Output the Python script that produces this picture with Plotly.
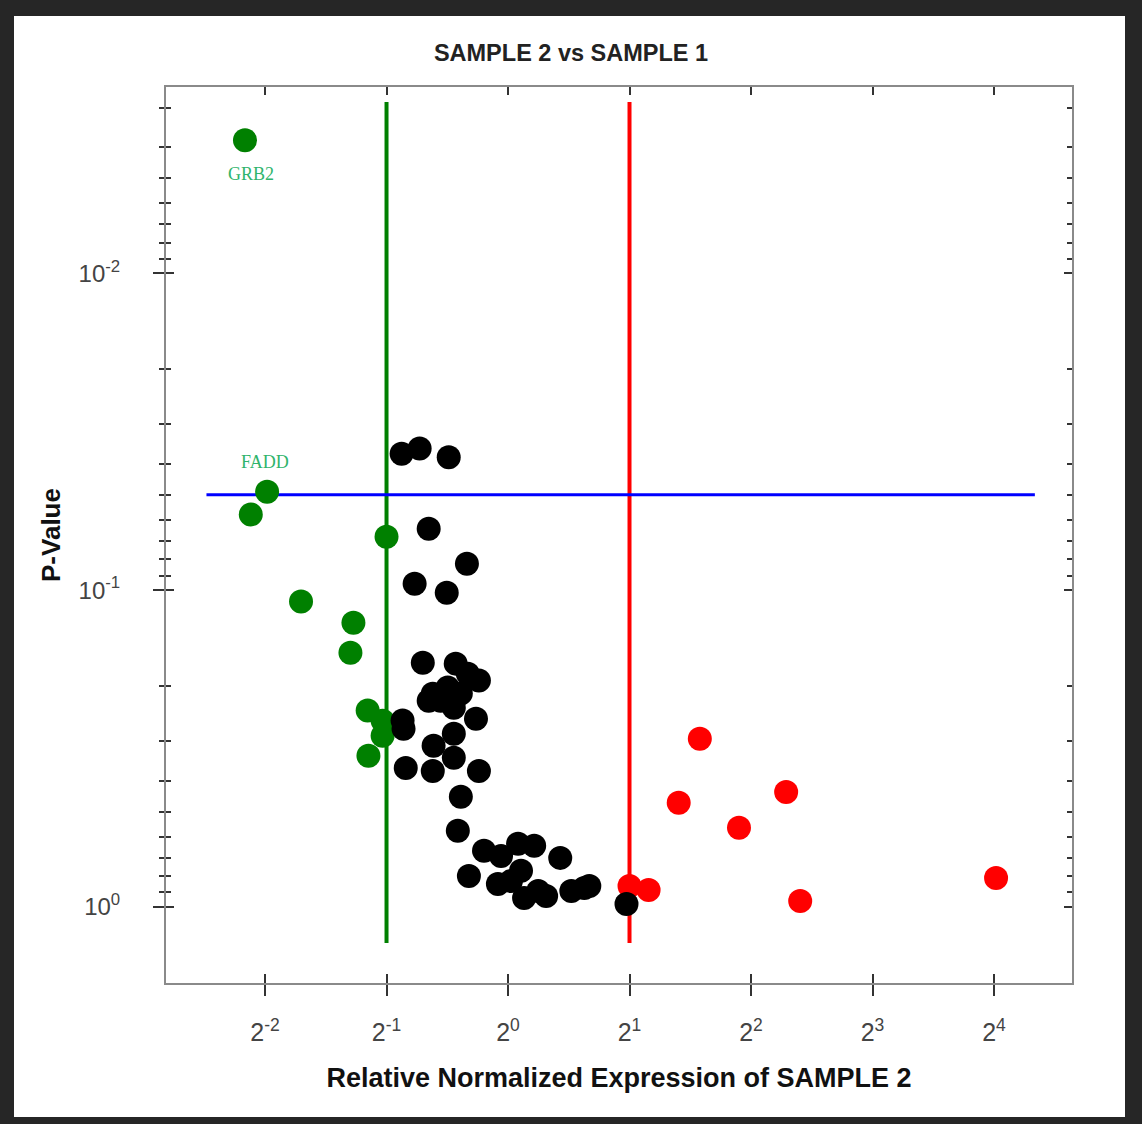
import numpy as np
import plotly.graph_objects as go

# ---------------- data ----------------
green_x = [0.223, 0.253, 0.2305, 0.50, 0.307, 0.414, 0.407, 0.449, 0.489, 0.489, 0.451]
green_p = [0.0038, 0.0489, 0.0577, 0.0678, 0.1087, 0.1267, 0.1576, 0.240, 0.2584, 0.288, 0.333]

red_x = [2.987, 2.648, 4.888, 3.735, 16.19, 5.296, 2.00, 2.23]
red_p = [0.2946, 0.469, 0.4334, 0.5627, 0.810, 0.957, 0.858, 0.884]

black_x = [0.545, 0.604, 0.713, 0.636, 0.791, 0.587, 0.705,
           0.615, 0.742, 0.795, 0.847, 0.651, 0.709, 0.764, 0.636, 0.681,
           0.734, 0.833, 0.548, 0.551, 0.734, 0.654, 0.734, 0.558, 0.651,
           0.847, 0.764, 0.751, 0.872, 0.961, 1.059, 1.161, 1.347, 0.800,
           1.077, 0.944, 1.017, 1.096, 1.188, 1.243, 1.435, 1.545, 1.590,
           1.966]
black_p = [0.0371, 0.0357, 0.0381, 0.064, 0.0825, 0.0954, 0.1019,
           0.1694, 0.1706, 0.1836, 0.193, 0.2124, 0.203, 0.212, 0.2235, 0.2235,
           0.235, 0.2547, 0.258, 0.274, 0.284, 0.310, 0.338, 0.364, 0.372,
           0.372, 0.449, 0.575, 0.665, 0.690, 0.632, 0.641, 0.700, 0.798,
           0.769, 0.846, 0.828, 0.937, 0.890, 0.923, 0.890, 0.871, 0.858,
           0.978]

label_genes = ["GRB2", "FADD"]
label_x = [0.223, 0.253]
label_p = [0.0038, 0.0489]

fc_down = 0.5
fc_up = 2.0
p_threshold = 0.05
vline_p_extent = [0.00288, 1.30]
hline_x_extent = [0.179, 20.2]

x_tickvals = [0.25, 0.5, 1, 2, 4, 8, 16]
x_ticktext = ["2<sup>-2</sup>", "2<sup>-1</sup>", "2<sup>0</sup>", "2<sup>1</sup>",
              "2<sup>2</sup>", "2<sup>3</sup>", "2<sup>4</sup>"]
y_tickvals = [0.01, 0.1, 1]
y_ticktext = ["10<sup>-2</sup>", "10<sup>-1</sup>", "10<sup>0</sup>"]
y_minor = [m * 10.0 ** e for e in (-3, -2, -1) for m in range(2, 10)]

title_text = "SAMPLE 2 vs SAMPLE 1"
x_title = "Relative Normalized Expression of SAMPLE 2"
y_title = "P-Value"

# ---------------- figure ----------------
W, H = 1142, 1124
ML, MR, MT, MB = 166, 70, 87, 141
x_range = [(-2 - 0.815) * np.log10(2), (4 + 0.642) * np.log10(2)]
y_range = [0.24, -2.588]

FONT = "Liberation Sans, Arial, sans-serif"
fig = go.Figure()

# threshold lines
fig.add_trace(go.Scatter(x=[fc_down, fc_down], y=vline_p_extent, mode="lines",
                         line=dict(color="#008000", width=4), showlegend=False, hoverinfo="skip"))
fig.add_trace(go.Scatter(x=[fc_up, fc_up], y=vline_p_extent, mode="lines",
                         line=dict(color="#ff0000", width=4), showlegend=False, hoverinfo="skip"))
fig.add_trace(go.Scatter(x=hline_x_extent, y=[p_threshold, p_threshold], mode="lines",
                         line=dict(color="#0000ff", width=3), showlegend=False, hoverinfo="skip"))

# points
fig.add_trace(go.Scatter(x=green_x, y=green_p, mode="markers",
                         marker=dict(color="#008000", size=24, line=dict(width=0)), showlegend=False))
fig.add_trace(go.Scatter(x=red_x, y=red_p, mode="markers",
                         marker=dict(color="#ff0000", size=24, line=dict(width=0)), showlegend=False))
fig.add_trace(go.Scatter(x=black_x, y=black_p, mode="markers",
                         marker=dict(color="#000000", size=24, line=dict(width=0)), showlegend=False))

# dummy traces for the overlay axes (inner ticks)
fig.add_trace(go.Scatter(x=[None], y=[None], xaxis="x2", yaxis="y2", showlegend=False, hoverinfo="skip"))
fig.add_trace(go.Scatter(x=[None], y=[None], xaxis="x3", yaxis="y3", showlegend=False, hoverinfo="skip"))

# gene labels
shifts = {"GRB2": (6, -34), "FADD": (-2, 30)}
for g, gx, gp in zip(label_genes, label_x, label_p):
    dx, dy = shifts[g]
    fig.add_annotation(x=np.log10(gx), y=np.log10(gp), xref="x", yref="y", text=g,
                       showarrow=False, xshift=dx, yshift=dy,
                       font=dict(family="Liberation Serif, Times New Roman, serif", size=18, color="#2fb46c"))

TICKC = "#333333"
LINEC = "#8a8a8a"
xtickfont = dict(family=FONT, size=25, color="#444444")
ytickfont = dict(family=FONT, size=24, color="#444444")

common_x = dict(type="log", range=x_range, tickmode="array", tickvals=x_tickvals,
                showgrid=False, zeroline=False, tickcolor=TICKC, tickwidth=1.5)
common_y = dict(type="log", range=y_range, tickmode="array", tickvals=y_tickvals,
                showgrid=False, zeroline=False, tickcolor=TICKC, tickwidth=1.5)

fig.update_layout(
    width=W, height=H,
    margin=dict(l=ML, r=MR, t=MT, b=MB, pad=0),
    paper_bgcolor="#262626",
    plot_bgcolor="#ffffff",
    title=dict(text="<b>" + title_text + "</b>", x=0.5, xref="container", xanchor="center",
               y=1 - 53 / H, yref="container", yanchor="middle",
               font=dict(family=FONT, size=23.5, color="#222222")),
    xaxis=dict(**common_x, ticktext=x_ticktext, ticks="outside", ticklen=11,
               showline=True, linecolor=LINEC, linewidth=2, mirror=True,
               tickfont=xtickfont, ticklabelstandoff=15,
               title=dict(text="<b>" + x_title + "</b>", standoff=23,
                          font=dict(family=FONT, size=27, color="#111111"))),
    yaxis=dict(**common_y, ticktext=y_ticktext, ticks="outside", ticklen=11,
               minor=dict(tickmode="array", tickvals=y_minor, ticks="outside", ticklen=5,
                          tickcolor=TICKC, tickwidth=1.5, showgrid=False),
               showline=True, linecolor=LINEC, linewidth=2, mirror=True,
               tickfont=ytickfont, ticklabelstandoff=28,
               title=dict(text="<b>" + y_title + "</b>", standoff=10,
                          font=dict(family=FONT, size=26, color="#111111"))),
    xaxis2=dict(**common_x, overlaying="x", side="top", ticks="inside", ticklen=8,
                showticklabels=False, showline=False),
    yaxis2=dict(**common_y, overlaying="y", side="left", ticks="inside", ticklen=8,
                minor=dict(tickmode="array", tickvals=y_minor, ticks="inside", ticklen=5,
                           tickcolor=TICKC, tickwidth=1.5, showgrid=False),
                showticklabels=False, showline=False),
    xaxis3=dict(**common_x, overlaying="x", side="bottom", ticks="inside", ticklen=9,
                showticklabels=False, showline=False),
    yaxis3=dict(**common_y, overlaying="y", side="right", ticks="inside", ticklen=8,
                minor=dict(tickmode="array", tickvals=y_minor, ticks="inside", ticklen=5,
                           tickcolor=TICKC, tickwidth=1.5, showgrid=False),
                showticklabels=False, showline=False),
)

# white page inside the dark frame
pw, ph = W - ML - MR, H - MT - MB
fig.add_shape(type="rect", xref="paper", yref="paper", layer="below",
              x0=(14 - ML) / pw, x1=(1125 - ML) / pw,
              y0=(H - MB - 1117) / ph, y1=(H - MB - 16) / ph,
              fillcolor="#ffffff", line=dict(width=0))

fig.write_html("out.html")
